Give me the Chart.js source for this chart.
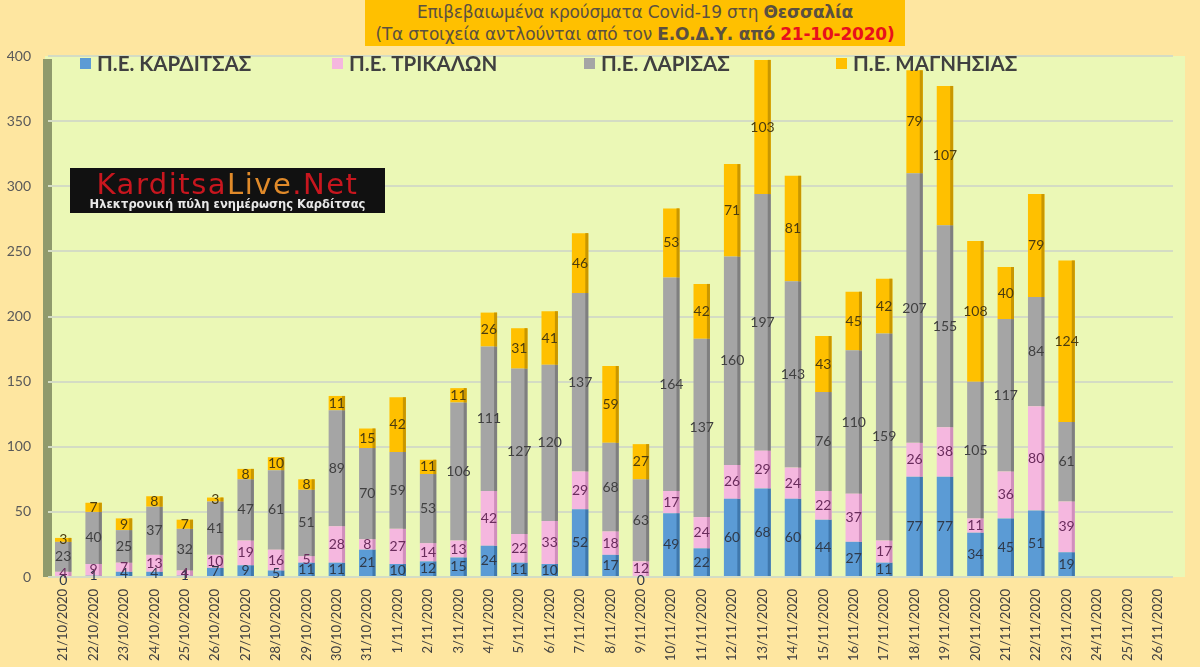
<!DOCTYPE html>
<html>
<head>
<meta charset="utf-8">
<script src="https://cdn.jsdelivr.net/npm/chart.js@4"></script>
<style>
  body { margin:0; background:#fee6a0; }
  #wrap { position:relative; width:1200px; height:667px; }
  #title { position:absolute; left:365px; top:0; width:540px; height:46px; background:#ffc000;
    font-family:"DejaVu Sans", sans-serif; font-size:17px; line-height:22px; color:#5b5040; text-align:center; padding-top:1px; box-sizing:border-box; letter-spacing:-0.2px; }
  #title .red { color:#e8101c; font-weight:bold; }
  #logo { position:absolute; left:70px; top:168px; width:315px; height:45px; background:#111;
    font-family:"DejaVu Sans", sans-serif; text-align:center; }
  #logo .big { font-size:29px; line-height:28px; color:#c8161e; letter-spacing:1.5px; padding-top:2px; }
  #logo .big span { color:#e08a2a; }
  #logo .small { font-size:11.5px; color:#e8e8e8; font-weight:bold; line-height:13px; }
</style>
</head>
<body>
<div id="wrap">
  <canvas id="myChart" width="1200" height="667"></canvas>
  <div id="title">Επιβεβαιωμένα κρούσματα Covid-19 στη <b>Θεσσαλία</b><br>(Τα στοιχεία αντλούνται από τον <b>Ε.Ο.Δ.Υ. από</b> <span class="red">21-10-2020)</span></div>
  <div id="logo"><div class="big">Karditsa<span>Live</span>.Net</div><div class="small">Ηλεκτρονική πύλη ενημέρωσης Καρδίτσας</div></div>
</div>
<script>
// dates (tick labels)
const labels = ['21/10/2020','22/10/2020','23/10/2020','24/10/2020','25/10/2020','26/10/2020','27/10/2020','28/10/2020','29/10/2020','30/10/2020','31/10/2020',
  '1/11/2020','2/11/2020','3/11/2020','4/11/2020','5/11/2020','6/11/2020','7/11/2020','8/11/2020','9/11/2020','10/11/2020','11/11/2020','12/11/2020','13/11/2020',
  '14/11/2020','15/11/2020','16/11/2020','17/11/2020','18/11/2020','19/11/2020','20/11/2020','21/11/2020','22/11/2020','23/11/2020','24/11/2020','25/11/2020','26/11/2020'];

const karditsa = [0,1,4,4,1,7,9,5,11,11,21,10,12,15,24,11,10,52,17,0,49,22,60,68,60,44,27,11,77,77,34,45,51,19,null,null,null];
const trikala  = [4,9,7,13,4,10,19,16,5,28,8,27,14,13,42,22,33,29,18,12,17,24,26,29,24,22,37,17,26,38,11,36,80,39,null,null,null];
const larisa   = [23,40,25,37,32,41,47,61,51,89,70,59,53,106,111,127,120,137,68,63,164,137,160,197,143,76,110,159,207,155,105,117,84,61,null,null,null];
const magnisia = [3,7,9,8,7,3,8,10,8,11,15,42,11,11,26,31,41,46,59,27,53,42,71,103,81,43,45,42,79,107,108,40,79,124,null,null,null];

const yTicks = [0,50,100,150,200,250,300,350,400];

const colors = ['#5b9bd5','#f5b7df','#a5a5a5','#ffc000'];
const sideColors = ['#3f78ad','#d08fbc','#7f7f7f','#c99700'];
const labelColors = ['#2f3a4a','#6a2c5c','#404040','#4a3c10'];

// plot background + left wall
const backPlugin = {
  id:'back',
  beforeDraw(chart){
    const {ctx, chartArea:a} = chart;
    ctx.save();
    ctx.fillStyle = '#ebf8b6';
    ctx.fillRect(a.left-3, a.top, a.right-a.left+15, a.bottom-a.top);
    ctx.fillStyle = '#8f9a6c';
    ctx.fillRect(a.left-5, a.top+3, 9, a.bottom-a.top-3);
    ctx.restore();
  }
};

// 3d side + value labels
const labelPlugin = {
  id:'vals',
  afterDatasetsDraw(chart){
    const ctx = chart.ctx;
    ctx.save();
    chart.data.datasets.forEach((ds,i)=>{
      const meta = chart.getDatasetMeta(i);
      meta.data.forEach((el,j)=>{
        if(ds.data[j]==null) return;
        const h = el.base - el.y;
        if(h>0){
          ctx.fillStyle = sideColors[i];
          ctx.fillRect(el.x + el.width/2 - 3, el.y, 3, h);
        }
      });
    });
    ctx.font = '14px Lato';
    ctx.textAlign = 'center';
    ctx.textBaseline = 'middle';
    chart.data.datasets.forEach((ds,i)=>{
      const meta = chart.getDatasetMeta(i);
      meta.data.forEach((el,j)=>{
        const v = ds.data[j];
        if(v==null) return;
        const p = el.getCenterPoint();
        ctx.fillStyle = labelColors[i];
        ctx.fillText(String(v), p.x, v===0 ? p.y+3 : p.y);
      });
    });
    ctx.restore();
  }
};

// legend inside the plot area
const legendPlugin = {
  id:'leg',
  afterDraw(chart){
    const {ctx, chartArea:a} = chart;
    ctx.save();
    ctx.font = 'bold 20.5px Lato';
    ctx.textBaseline = 'middle';
    chart.data.datasets.forEach((ds,i)=>{
      const x = a.left + 32 + i*252;
      const y = a.top + 7;
      ctx.fillStyle = colors[i];
      ctx.fillRect(x, y-5, 11, 11);
      ctx.fillStyle = '#404040';
      ctx.fillText(ds.label, x+17, y+1);
    });
    ctx.restore();
  }
};

const data = {
  labels: labels,
  datasets: [
    {label:'Π.Ε. ΚΑΡΔΙΤΣΑΣ', data:karditsa, backgroundColor:colors[0]},
    {label:'Π.Ε. ΤΡΙΚΑΛΩΝ', data:trikala, backgroundColor:colors[1]},
    {label:'Π.Ε. ΛΑΡΙΣΑΣ', data:larisa, backgroundColor:colors[2]},
    {label:'Π.Ε. ΜΑΓΝΗΣΙΑΣ', data:magnisia, backgroundColor:colors[3]}
  ]
};

const config = {
  type:'bar',
  data,
  options:{
    responsive:false,
    animation:false,
    layout:{padding:{top:56, right:27, left:0, bottom:0}},
    datasets:{bar:{barPercentage:0.54, categoryPercentage:1}},
    plugins:{legend:{display:false}, title:{display:false}, tooltip:{enabled:false}},
    scales:{
      x:{
        stacked:true,
        grid:{display:false},
        border:{display:false},
        ticks:{autoSkip:false, maxRotation:90, minRotation:90, color:'#404040', font:{family:'Lato', size:13}, padding:4},
        afterFit(s){ s.height = 90; }
      },
      y:{
        stacked:true,
        min:0, max:400,
        afterBuildTicks(s){ s.ticks = yTicks.map(v=>({value:v})); },
        grid:{color:'#d4dcc4', lineWidth:2, drawTicks:false},
        border:{display:false},
        ticks:{color:'#595959', font:{family:'Lato', size:14}, padding:17},
        afterFit(s){ s.width = 48; }
      }
    }
  },
  plugins:[backPlugin, labelPlugin, legendPlugin]
};

var myChart = new Chart(document.getElementById('myChart'), config);
</script>
</body>
</html>
